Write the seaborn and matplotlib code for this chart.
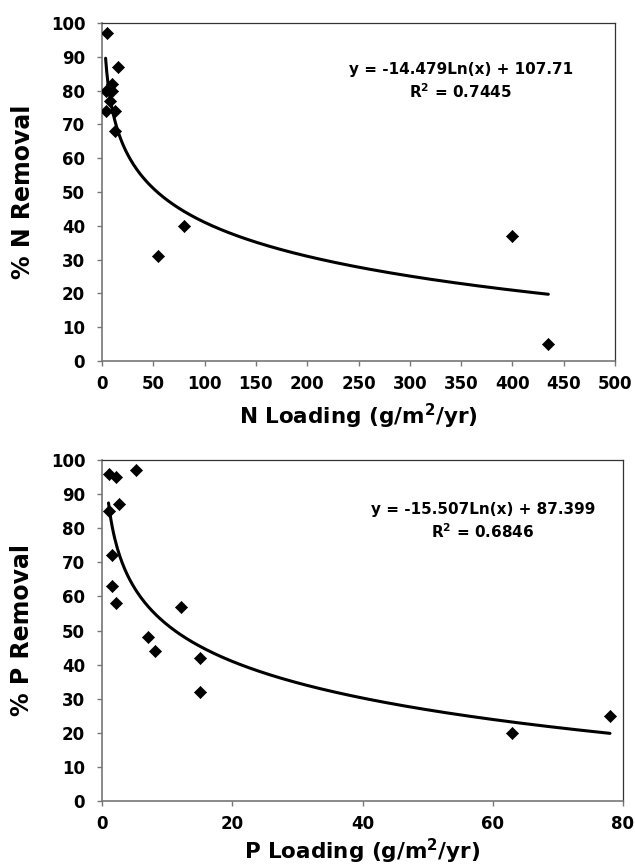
import numpy as np
import pandas as pd
import matplotlib
matplotlib.use('Agg')
import matplotlib.pyplot as plt
import seaborn as sns

# N removal data
n_loading = [5, 16, 3.5, 10, 10, 8, 3.5, 13, 13, 55, 80, 400, 435]
n_removal = [97, 87, 80, 82, 80, 77, 74, 74, 68, 31, 40, 37, 5]
n_coef, n_icpt = -14.479, 107.71
n_eq = "y = -14.479Ln(x) + 107.71"
n_r2 = "R$^2$ = 0.7445"

# P removal data
p_loading = [1.0, 2.2, 5.2, 1.0, 2.6, 1.6, 1.6, 2.1, 12.1, 7.1, 8.1, 15, 15, 63, 78]
p_removal = [96, 95, 97, 85, 87, 72, 63, 58, 57, 48, 44, 42, 32, 20, 25]
p_coef, p_icpt = -15.507, 87.399
p_eq = "y = -15.507Ln(x) + 87.399"
p_r2 = "R$^2$ = 0.6846"

sns.set_style('white')
plt.rcParams['font.family'] = ['DejaVu Sans']
plt.rcParams['font.weight'] = 'bold'
plt.rcParams['text.color'] = 'black'
plt.rcParams['axes.labelcolor'] = 'black'
plt.rcParams['xtick.color'] = 'black'
plt.rcParams['ytick.color'] = 'black'

fig = plt.figure(figsize=(6.35, 8.68), dpi=100)
W, H = 635, 868
ax1 = fig.add_axes([102 / W, 1 - 361 / H, 513 / W, 338 / H])
ax2 = fig.add_axes([102 / W, 1 - 801 / H, 521 / W, 341 / H])


def draw(ax, xs, ys, coef, icpt, eq, r2, xlim, xticks, xlabel, ylabel, txt_x, txt_y, xlab_y):
    df = pd.DataFrame({'x': xs, 'y': ys})
    sns.scatterplot(data=df, x='x', y='y', marker='D', s=38, color='black',
                    edgecolor='black', ax=ax, zorder=3)
    cx = np.linspace(min(xs), max(xs), 400)
    trend = pd.DataFrame({'x': cx, 'y': coef * np.log(cx) + icpt})
    sns.lineplot(data=trend, x='x', y='y', color='black', linewidth=2.2, ax=ax)
    ax.set_xlim(*xlim)
    ax.set_ylim(0, 100)
    ax.set_xticks(xticks)
    ax.set_yticks(range(0, 101, 10))
    ax.tick_params(axis='both', labelsize=12, direction='out', length=3.6,
                   width=1, color='#777777', left=True, bottom=True)
    ax.tick_params(axis='x', pad=6.5)
    ax.tick_params(axis='y', pad=8.5)
    for lab in ax.get_xticklabels() + ax.get_yticklabels():
        lab.set_fontweight('bold')
    ax.set_xlabel(xlabel, fontsize=15.5, fontweight='bold', va='center')
    ax.set_ylabel(ylabel, fontsize=17, fontweight='bold', va='center')
    ax.xaxis.set_label_coords(0.5, xlab_y)
    ax.yaxis.set_label_coords(-0.154, 0.5)
    for side in ['left', 'bottom']:
        ax.spines[side].set_color('#777777')
        ax.spines[side].set_linewidth(1.2)
    for side in ['top', 'right']:
        ax.spines[side].set_color('#333333')
        ax.spines[side].set_linewidth(0.9)
    ax.text(txt_x, txt_y, eq, ha='center', va='center', fontsize=11, fontweight='bold')
    ax.text(txt_x, txt_y - 6.5, r2, ha='center', va='center', fontsize=11, fontweight='bold')


draw(ax1, n_loading, n_removal, n_coef, n_icpt, n_eq, n_r2, (0, 500),
     range(0, 501, 50), 'N Loading (g/m$^2$/yr)', '% N Removal', 349.5, 86.2, -0.163)
draw(ax2, p_loading, p_removal, p_coef, p_icpt, p_eq, p_r2, (0, 80),
     range(0, 81, 20), 'P Loading (g/m$^2$/yr)', '% P Removal', 58.5, 85.6, -0.147)

plt.savefig('out.png', dpi=100)
